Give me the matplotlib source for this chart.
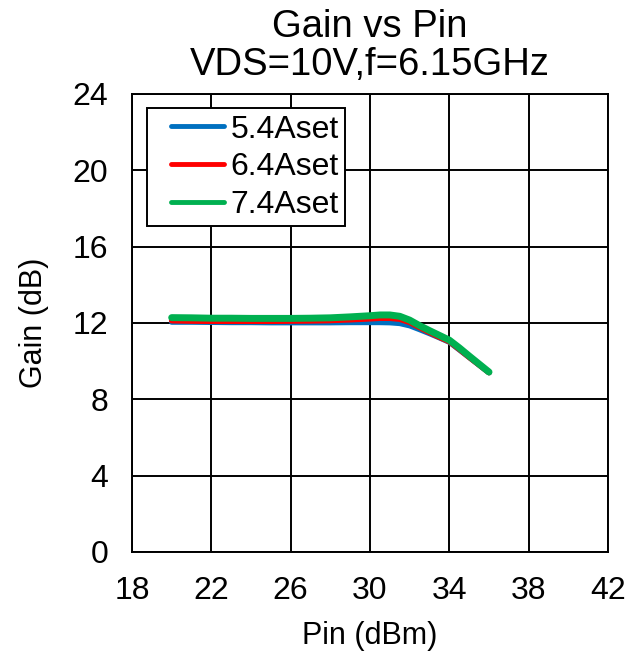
import matplotlib
matplotlib.use("Agg")
import matplotlib.pyplot as plt

# Input power sweep (dBm), finer steps through compression
pin = [20, 21, 22, 23, 24, 25, 26, 27, 28, 29, 30, 30.5, 31, 31.5, 32, 32.5, 33,
       33.5, 34, 34.5, 35, 35.5, 36]

# Gain (dB) per quiescent current setting
gain_54 = [12.05, 12.05, 12.04, 12.03, 12.03, 12.02, 12.02, 12.02, 12.02, 12.03, 12.03, 12.03,
           12.02, 11.98, 11.86, 11.66, 11.45, 11.23, 11.0, 10.6, 10.2, 9.8, 9.4]
gain_64 = [12.12, 12.1, 12.09, 12.09, 12.09, 12.09, 12.1, 12.11, 12.13, 12.17, 12.22, 12.25,
           12.25, 12.2, 12.03, 11.76, 11.5, 11.25, 11.02, 10.62, 10.2, 9.8, 9.4]
gain_74 = [12.28, 12.27, 12.25, 12.25, 12.24, 12.24, 12.24, 12.25, 12.27, 12.32, 12.38, 12.42,
           12.42, 12.35, 12.15, 11.86, 11.6, 11.35, 11.1, 10.7, 10.27, 9.85, 9.43]

labels = ["5.4Aset", "6.4Aset", "7.4Aset"]
colors = ["#0070C0", "#FF0000", "#00B050"]

plt.rcParams["font.family"] = ["Liberation Sans", "DejaVu Sans"]

fig = plt.figure(figsize=(6.43, 6.59), dpi=100)
ax = fig.add_axes([0.2053, 0.1624, 0.7403, 0.695])

for g, lab, c, lw in zip([gain_54, gain_64, gain_74], labels, colors, [4, 4, 5]):
    ax.plot(pin, g, color=c, lw=lw, label=lab, solid_capstyle="round",
            solid_joinstyle="round")

ax.set_xlim(18, 42)
ax.set_ylim(0, 24)
ax.set_xticks(range(18, 43, 4))
ax.set_yticks(range(0, 25, 4))
ax.grid(True, color="black", lw=1.4)
ax.set_axisbelow(True)
ax.tick_params(length=0, labelsize=23, pad=17)
for s in ax.spines.values():
    s.set_linewidth(1.4)

ax.set_xlabel("Pin (dBm)", fontsize=22, labelpad=11)
ax.set_ylabel("Gain (dB)", fontsize=22, labelpad=17)
ax.set_title("Gain vs Pin\nVDS=10V,f=6.15GHz", fontsize=27.5, linespacing=1.05, pad=14)

leg = ax.legend(loc="upper left", bbox_to_anchor=(0.0315, 0.969), fontsize=23, frameon=True,
                fancybox=False, edgecolor="black", framealpha=1, handlelength=2.2,
                handletextpad=0.22, labelspacing=0.24, borderpad=0.2, borderaxespad=0)
leg.get_frame().set_linewidth(1.4)
for h in leg.get_lines():
    h.set_linewidth(3.5)
    # leave a little room before each legend stroke
    xd = list(h.get_xdata())
    h.set_xdata([xd[0] + 13] + xd[1:])

fig.savefig("out.png", dpi=100)
